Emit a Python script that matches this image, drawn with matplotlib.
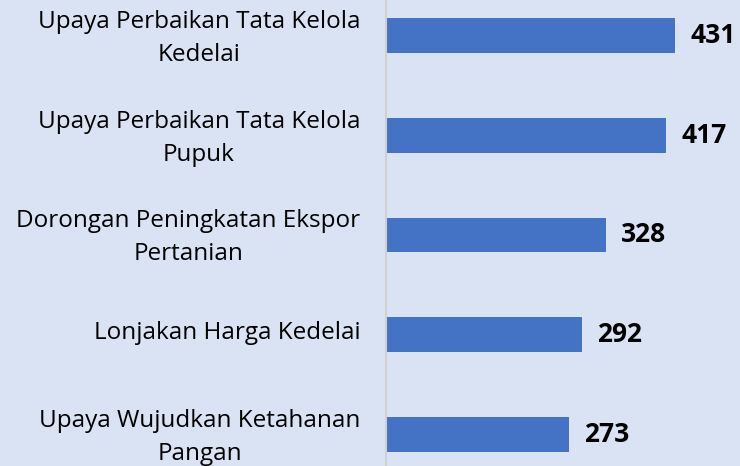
import matplotlib
matplotlib.use("Agg")
from matplotlib import pyplot as plt
from matplotlib.transforms import ScaledTranslation

categories = ["Upaya Perbaikan Tata Kelola\nKedelai",
              "Upaya Perbaikan Tata Kelola\nPupuk",
              "Dorongan Peningkatan Ekspor\nPertanian",
              "Lonjakan Harga Kedelai",
              "Upaya Wujudkan Ketahanan\nPangan"]
values = [431, 417, 328, 292, 273]

bg = '#dae3f3'
fig = plt.figure(figsize=(7.4, 4.66), dpi=100, facecolor=bg)
ax = fig.add_axes([386/740, 0, 1 - 386/740, 1], facecolor=bg)

pos = list(range(len(values)))
ax.barh(pos, values, height=0.35, color='#4472c4')
for p, v in zip(pos, values):
    ax.text(v + 23, p, str(v), va='center', ha='left', fontsize=19,
            fontweight='bold', family='Open Sans', color='black')

ax.set_xlim(0, 528)
ax.set_ylim(4.319, -0.359)
ax.set_yticks(pos)
ax.set_yticklabels(categories, fontsize=17.5, family='Open Sans', ha='right',
                   multialignment='center', linespacing=1.5)
ax.tick_params(axis='y', length=0, pad=18.5)
# nudge the labels up a little
shift = ScaledTranslation(0, 0.045, fig.dpi_scale_trans)
for lab in ax.get_yticklabels():
    lab.set_transform(lab.get_transform() + shift)
ax.set_xticks([])
for s in ['top', 'right', 'bottom']:
    ax.spines[s].set_visible(False)
ax.spines['left'].set_color('#d0d0d0')
ax.spines['left'].set_linewidth(1.5)

fig.savefig('out.png', dpi=100, facecolor=bg)
